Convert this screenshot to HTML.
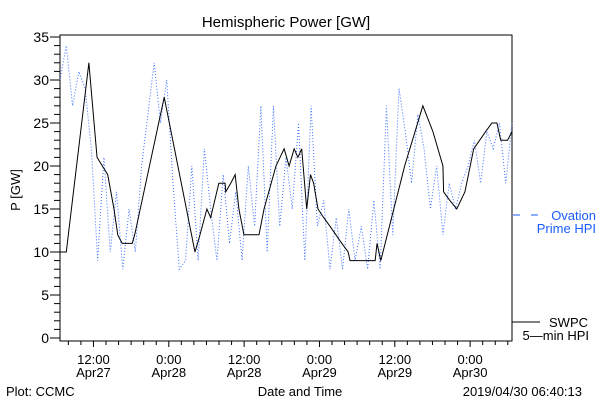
<!DOCTYPE html>
<html><head><meta charset="utf-8"><style>
body{margin:0;background:#fff}
svg{display:block;font-family:"Liberation Sans","DejaVu Sans",sans-serif}
</style></head><body>
<svg id="c" width="600" height="400" viewBox="0 0 600 400">
<rect x="0" y="0" width="600" height="400" fill="#fff"/>
<text x="286" y="27" font-size="15" text-anchor="middle">Hemispheric Power [GW]</text>
<text transform="translate(20,190) rotate(-90)" font-size="13" text-anchor="middle">P [GW]</text>
<text x="300" y="396" font-size="13" text-anchor="middle">Date and Time</text>
<text x="6" y="396" font-size="13">Plot: CCMC</text>
<text x="582" y="396" font-size="13" text-anchor="end">2019/04/30 06:40:13</text>
<g id="axes"></g>
<g id="series"></g>
<g>
<line x1="513" y1="215" x2="520" y2="215" stroke="#1a5cff" stroke-width="1"/>
<line x1="531" y1="215" x2="538" y2="215" stroke="#1a5cff" stroke-width="1"/>
<text x="596" y="220" font-size="13" fill="#1a5cff" text-anchor="end">Ovation</text>
<text x="596" y="233" font-size="13" fill="#1a5cff" text-anchor="end">Prime HPI</text>
</g>
<g>
<line x1="512" y1="322" x2="540" y2="322" stroke="#000" stroke-width="1"/>
<text x="588" y="327" font-size="13" text-anchor="end">SWPC</text>
<text x="589" y="340" font-size="13" text-anchor="end">5—min HPI</text>
</g>
</svg>
<script>
const yTicks=[0,5,10,15,20,25,30,35];
const xTickHours=[5.33,17.33,29.33,41.33,53.33,65.33];
const xTickTimes=["12:00","0:00","12:00","0:00","12:00","0:00"];
const xTickDates=["Apr27","Apr28","Apr28","Apr29","Apr29","Apr30"];
const swpcHours=[0,1,4.6,5.9,7.6,8.6,9.2,9.9,11.5,11.9,16.6,21.5,22.3,23.4,24,25.3,26.3,26.4,27.2,27.9,28.5,29.3,31.7,32.5,34.4,35.7,36.5,37.3,37.9,38.5,39.3,39.9,40.4,41.1,42,43,44.9,45.9,46.2,50.2,50.5,51.1,54.9,57.8,59.4,61,61.1,62.1,63.2,64.5,65.9,67.8,68.8,69.6,70.2,71.3,72];
const swpcValues=[10,10,32,21,19,15,12,11,11,12,28,10,12,15,14,18,18,17,18,19,15,12,12,15,20,22,20,22,21,22,15,19,18,15,14,13,11,10,9,9,11,9,20,27,24,20,17,16,15,17,22,24,25,25,23,23,24];
const ovationValues=[30,34,27,31,29,22,9,21,10,17,8,15,10,20,26,32,25,30,18,8,9,20,9,22,15,9,19,11,17,9,20,13,27,10,27,13,21,15,25,9,27,13,16,8,14,8,15,9,13,8,16,8,27,12,29,24,18,26,22,15,20,12,18,15,18,20,23,18,24,22,25,18,25];
const X0=60,X1=512,H=72,Y0=338,Y35=37,TOP=35,BOT=341;
const xs=h=>X0+(X1-X0)*h/H;
const ys=v=>Y0+(Y35-Y0)*v/35;
const NS="http://www.w3.org/2000/svg";
function mk(t,a,p){const e=document.createElementNS(NS,t);for(const k in a)e.setAttribute(k,a[k]);p.appendChild(e);return e;}
const ax=document.getElementById('axes');
const fr=mk('rect',{x:X0,y:TOP,width:X1-X0,height:BOT-TOP,fill:'none',stroke:'#000','stroke-width':1},ax);


for(let v=0;v<=35;v++){const maj=v%5===0;const l=mk('line',{x1:X0-(maj?10:6),x2:X0,y1:ys(v),y2:ys(v),stroke:'#000'},ax);

}
yTicks.forEach(v=>{const t=mk('text',{x:49,y:ys(v)+5,'font-size':14,'text-anchor':'end'},ax);t.textContent=v;

});
for(let h=1.33;h<=H;h+=2){const maj=Math.abs(((h-5.33)/12)-Math.round((h-5.33)/12))<0.01;const l=mk('line',{x1:xs(h),x2:xs(h),y1:BOT,y2:BOT+(maj?6:4),stroke:'#000'},ax);

}
xTickHours.forEach((h,i)=>{const t=mk('text',{x:xs(h),y:364,'font-size':13,'text-anchor':'middle'},ax);t.textContent=xTickTimes[i];


const d=mk('text',{x:xs(h),y:377,'font-size':13,'text-anchor':'middle'},ax);d.textContent=xTickDates[i];

});
const sg=document.getElementById('series');
const op=mk('polyline',{points:ovationValues.map((v,i)=>xs(i*H/(ovationValues.length-1))+','+ys(v)).join(' '),fill:'none',stroke:'#3a70ff','stroke-width':1,'stroke-dasharray':'1 2'},sg);


const sp=mk('polyline',{points:swpcHours.map((h,i)=>xs(h)+','+ys(swpcValues[i])).join(' '),fill:'none',stroke:'#000','stroke-width':1},sg);


</script>
</body></html>
